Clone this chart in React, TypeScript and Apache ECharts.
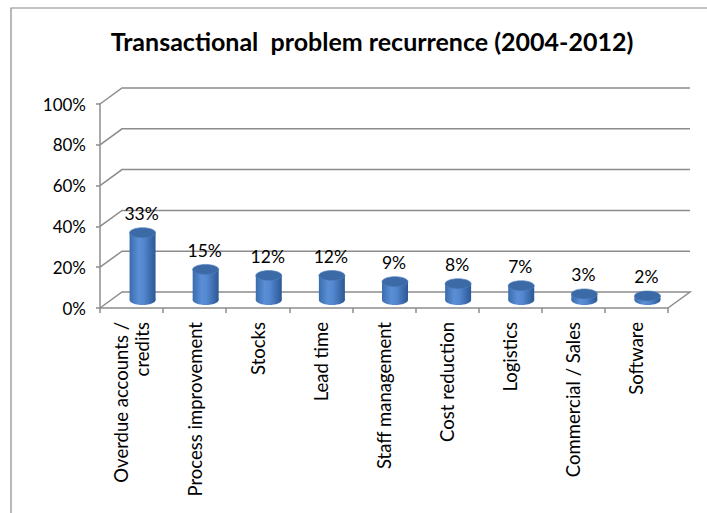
import React, { useEffect, useRef } from "react";
import * as echarts from "echarts";

const categories = [
  "Overdue accounts /\ncredits",
  "Process improvement",
  "Stocks",
  "Lead time",
  "Staff management",
  "Cost reduction",
  "Logistics",
  "Commercial / Sales",
  "Software",
];
const values = [33, 15, 12, 12, 9, 8, 7, 3, 2];
const yTicks = [0, 20, 40, 60, 80, 100];
const titleText = "Transactional  problem recurrence (2004-2012)";

const FONT = "Lato, 'Open Sans', sans-serif";
const DX = 22;
const DY = -16;
const GRID_COLOR = "#8c8c8c";

export default function App() {
  const ref = useRef<HTMLDivElement>(null);
  useEffect(() => {
    if (!ref.current) return;
    const chart = echarts.init(ref.current, undefined, { renderer: "svg" });
    const option: any = {
      animation: false,
      backgroundColor: "#ffffff",
      title: {
        text: titleText,
        left: 367,
        top: 23,
        textAlign: "center",
        textStyle: { fontFamily: FONT, fontSize: 25, fontWeight: "bold", color: "#000" },
      },
      graphic: [
        {
          type: "rect",
          shape: { x: 11, y: 8, width: 720, height: 540 },
          style: { fill: "none", stroke: "#8a8a8a", lineWidth: 1.2 },
          silent: true,
        },
      ],
      grid: { left: 100, right: 39, top: 104, bottom: 205, containLabel: false },
      xAxis: {
        type: "category",
        data: categories,
        axisLine: { show: true, lineStyle: { color: GRID_COLOR, width: 1.5 } },
        axisTick: { show: true, length: 5, lineStyle: { color: GRID_COLOR, width: 1.5 } },
        axisLabel: {
          rotate: 90,
          interval: 0,
          margin: 14,
          fontFamily: FONT,
          fontSize: 18.5,
          color: "#000",
          lineHeight: 21,
          align: "right",
        },
        splitLine: { show: false },
      },
      yAxis: {
        type: "value",
        min: 0,
        max: 100,
        interval: 20,
        axisLine: { show: true, lineStyle: { color: GRID_COLOR, width: 1.5 } },
        axisTick: { show: true, length: 4, lineStyle: { color: GRID_COLOR, width: 1.5 } },
        axisLabel: {
          formatter: "{value}%",
          margin: 14,
          fontFamily: FONT,
          fontSize: 17,
          color: "#000",
        },
        splitLine: { show: false },
      },
      series: [
        {
          type: "custom",
          name: "walls",
          z: 1,
          silent: true,
          data: yTicks.map((v) => [0, v]),
          renderItem: (params: any, api: any) => {
            const v = api.value(1);
            const cs = params.coordSys;
            const y = api.coord([0, v])[1];
            const xl = cs.x;
            const xr = cs.x + cs.width;
            const pts =
              v === 0
                ? [
                    [xl, y],
                    [xl + DX, y + DY],
                    [xr + DX, y + DY],
                    [xr, y],
                  ]
                : [
                    [xl, y],
                    [xl + DX, y + DY],
                    [xr + DX, y + DY],
                  ];
            return {
              type: "polyline",
              shape: { points: pts },
              style: { stroke: GRID_COLOR, lineWidth: 1.5, fill: "none" },
            };
          },
        },
        {
          type: "custom",
          name: "cylinders",
          z: 3,
          data: values.map((v, i) => [i, v]),
          renderItem: (params: any, api: any) => {
            const i = api.value(0);
            const v = api.value(1);
            const base = api.coord([i, 0]);
            const top = api.coord([i, v]);
            const cx = base[0] + DX / 2;
            const by = base[1] + DY / 2;
            const ty = top[1] + DY / 2;
            const w = 26;
            const rx = w / 2;
            const ry = 5;
            const bodyFill = new echarts.graphic.LinearGradient(0, 0, 1, 0, [
              { offset: 0, color: "#3a6cad" },
              { offset: 0.35, color: "#5a8fd6" },
              { offset: 0.55, color: "#5387cf" },
              { offset: 1, color: "#2c5894" },
            ]);
            return {
              type: "group",
              children: [
                {
                  type: "ellipse",
                  shape: { cx, cy: by, rx, ry },
                  style: { fill: bodyFill },
                },
                {
                  type: "rect",
                  shape: { x: cx - rx, y: ty, width: w, height: Math.max(0, by - ty) },
                  style: { fill: bodyFill },
                },
                {
                  type: "ellipse",
                  shape: { cx, cy: ty, rx, ry },
                  style: { fill: "#3b6aa6", stroke: "#5080c0", lineWidth: 0.6 },
                },
                {
                  type: "text",
                  style: {
                    text: v + "%",
                    x: cx - 1,
                    y: ty - ry - 5,
                    align: "center",
                    verticalAlign: "bottom",
                    fontFamily: FONT,
                    fontSize: 17.5,
                    fill: "#000",
                  },
                },
              ],
            };
          },
        },
      ],
    };
    chart.setOption(option);
    return () => chart.dispose();
  }, []);
  return (
    <div
      ref={ref}
      style={{ position: "fixed", left: 0, top: 0, width: 707, height: 513 }}
    />
  );
}
